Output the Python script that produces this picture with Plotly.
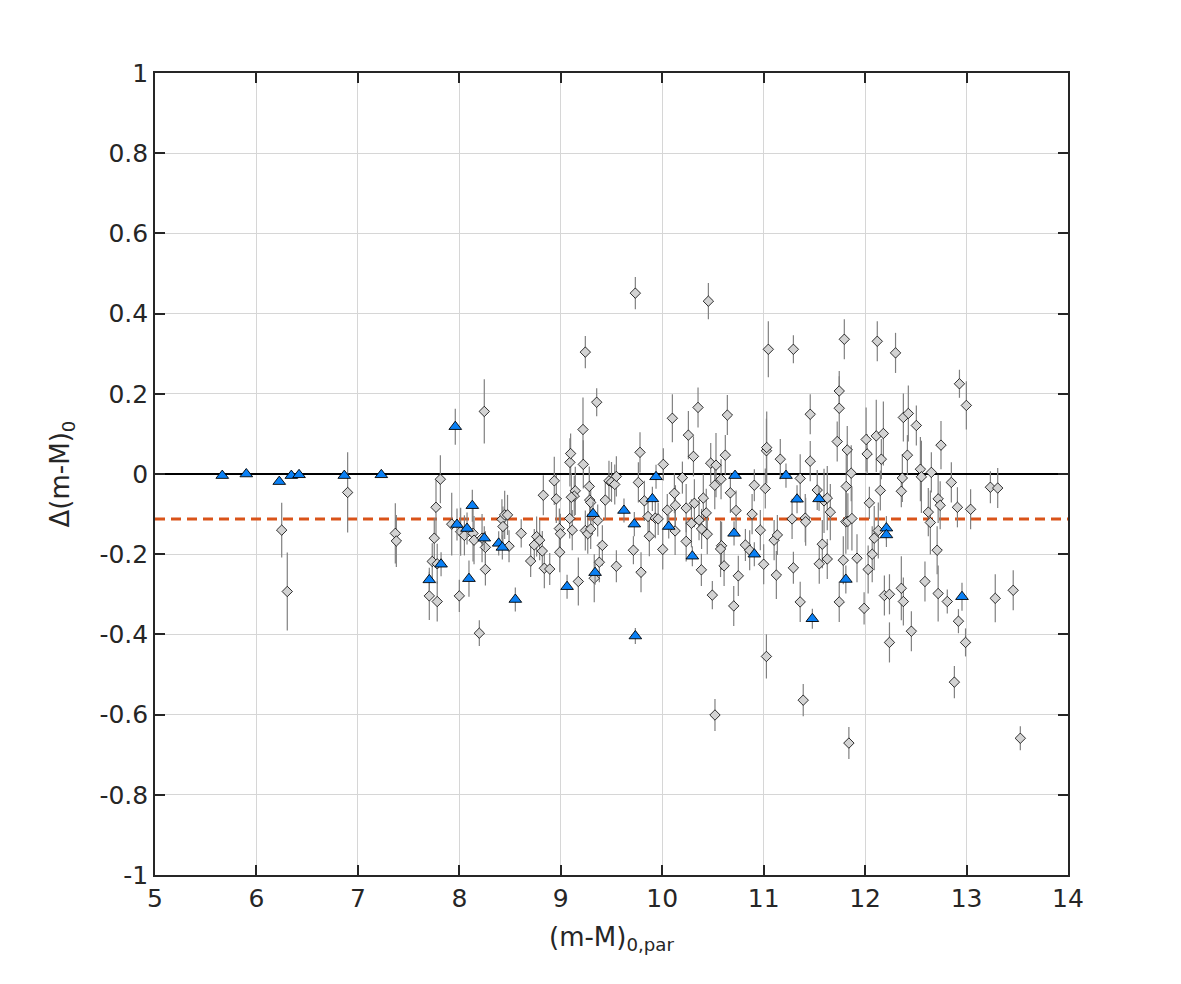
import plotly.graph_objects as go

# ---------------- data ----------------
# grey diamonds: x, delta, error
diam_x = [6.249, 6.304, 6.899, 7.369, 7.379,
          7.813, 7.770, 7.753, 7.733, 7.782, 7.704, 7.782, 7.925, 8.000, 8.013, 8.050,
          8.246, 8.135, 8.145, 8.224, 8.257, 8.257, 8.197, 8.420, 8.447, 8.430, 8.475, 8.490,
          8.610, 8.703, 8.739, 8.762, 8.792, 8.818, 8.828, 8.838, 8.891, 8.936, 8.956, 8.986, 8.996, 8.990,
          9.090, 9.097, 9.113, 9.088, 9.173, 9.143, 9.133, 9.104, 9.219, 9.222, 9.242, 9.354, 9.281, 9.285,
          9.295, 9.242, 9.266, 9.295, 9.364, 9.380, 9.410, 9.330, 9.439, 9.475, 9.500, 9.532, 9.548, 9.548,
          9.716, 9.735, 9.765, 9.781, 9.791, 9.824, 9.860, 9.873, 9.932, 9.960, 10.005, 10.011, 10.050,
          10.100, 10.120, 10.130, 10.127, 10.199, 10.236, 10.236, 10.258, 10.308, 10.317, 10.288, 10.353,
          10.363, 10.388, 10.386, 10.405, 10.434, 10.444, 10.455, 10.478, 10.494, 10.520, 10.530, 10.518,
          10.580, 10.585, 10.575, 10.610, 10.622, 10.642, 10.672, 10.705, 10.728, 10.750,
          10.820, 10.862, 10.886, 10.908, 10.967, 11.000, 11.016, 11.027, 11.030, 11.027, 11.046, 11.103,
          11.125, 11.135, 11.164, 11.280, 11.293, 11.293, 11.360, 11.360, 11.390, 11.410, 11.414, 11.459,
          11.459, 11.528, 11.548, 11.578, 11.595, 11.627, 11.627, 11.657, 11.725, 11.745, 11.745, 11.745,
          11.785, 11.795, 11.810, 11.814, 11.824, 11.830, 11.840, 11.863, 11.870, 11.920,
          11.990, 12.010, 12.020, 12.030, 12.042, 12.070, 12.090, 12.110, 12.120, 12.130, 12.150, 12.160,
          12.180, 12.190, 12.240, 12.240, 12.300, 12.357, 12.357, 12.367, 12.377, 12.377, 12.417, 12.426,
          12.456, 12.505, 12.545, 12.555, 12.590, 12.623, 12.643, 12.653, 12.710, 12.720, 12.740, 12.720,
          12.748, 12.810, 12.850, 12.880, 12.910, 12.920, 12.930, 12.990, 12.998, 13.040, 13.235, 13.283,
          13.307, 13.460, 13.530]
diam_y = [-0.140, -0.293, -0.046, -0.148, -0.167,
          -0.013, -0.083, -0.160, -0.218, -0.224, -0.304, -0.318, -0.125, -0.304, -0.144, -0.153,
          0.156, -0.148, -0.165, -0.160, -0.183, -0.238, -0.397, -0.113, -0.102, -0.131, -0.102, -0.180,
          -0.148, -0.217, -0.177, -0.156, -0.165, -0.192, -0.053, -0.235, -0.237, -0.017, -0.062, -0.136, -0.149, -0.195,
          0.029, 0.051, -0.140, -0.111, -0.268, -0.042, -0.055, -0.058, 0.111, 0.024, 0.304, 0.179, -0.031, -0.065,
          -0.071, -0.141, -0.149, -0.137, -0.116, -0.220, -0.178, -0.260, -0.065, -0.017, -0.020, -0.026, -0.006, -0.230,
          -0.190, 0.451, -0.021, 0.054, -0.245, -0.067, -0.106, -0.155, -0.110, -0.112, -0.188, 0.024, -0.090,
          0.139, -0.048, -0.078, -0.142, -0.009, -0.168, -0.085, 0.097, 0.044, -0.073, -0.123, 0.166,
          -0.115, -0.137, -0.239, -0.060, -0.097, -0.150, 0.431, 0.027, -0.302, -0.601, 0.022, -0.028,
          -0.013, -0.179, -0.187, -0.229, 0.047, 0.147, -0.047, -0.329, -0.091, -0.254,
          -0.177, -0.190, -0.100, -0.028, -0.140, -0.225, -0.036, 0.058, 0.066, -0.455, 0.311, -0.165,
          -0.252, -0.152, 0.037, -0.112, 0.311, -0.234, -0.011, -0.319, -0.564, -0.110, -0.119, 0.149,
          0.032, -0.040, -0.224, -0.175, -0.067, -0.060, -0.212, -0.095, 0.081, 0.207, 0.164, -0.319,
          -0.215, 0.336, -0.119, -0.031, 0.060, -0.118, -0.671, 0.002, -0.111, -0.210,
          -0.335, 0.086, 0.050, -0.238, -0.072, -0.200, -0.160, 0.095, 0.331, -0.141, -0.041, 0.037,
          0.101, -0.303, -0.300, -0.420, 0.302, -0.043, -0.285, -0.010, 0.141, -0.318, 0.047, 0.151,
          -0.392, 0.121, 0.012, -0.007, -0.268, -0.095, -0.121, 0.004, -0.190, -0.062, -0.078, -0.298,
          0.072, -0.318, -0.021, -0.519, -0.083, -0.367, 0.225, -0.420, 0.171, -0.088, -0.033, -0.310,
          -0.035, -0.290, -0.659]
diam_err = [0.068, 0.097, 0.100, 0.075, 0.065,
            0.060, 0.070, 0.050, 0.045, 0.050, 0.060, 0.050, 0.078, 0.040, 0.060, 0.050,
            0.080, 0.070, 0.060, 0.060, 0.040, 0.040, 0.032, 0.050, 0.060, 0.050, 0.050, 0.040,
            0.035, 0.040, 0.040, 0.050, 0.050, 0.050, 0.050, 0.050, 0.040, 0.060, 0.060, 0.050, 0.050, 0.050,
            0.060, 0.050, 0.050, 0.050, 0.060, 0.060, 0.050, 0.060, 0.080, 0.060, 0.040, 0.035, 0.050, 0.050,
            0.050, 0.050, 0.050, 0.050, 0.040, 0.050, 0.050, 0.060, 0.050, 0.050, 0.050, 0.050, 0.050, 0.040,
            0.035, 0.040, 0.050, 0.050, 0.050, 0.050, 0.040, 0.050, 0.050, 0.040, 0.050, 0.040, 0.040,
            0.060, 0.050, 0.050, 0.060, 0.040, 0.050, 0.060, 0.060, 0.050, 0.060, 0.060, 0.050,
            0.050, 0.050, 0.040, 0.060, 0.060, 0.050, 0.045, 0.050, 0.035, 0.040, 0.080, 0.060,
            0.050, 0.060, 0.070, 0.050, 0.050, 0.050, 0.050, 0.050, 0.050, 0.050,
            0.040, 0.050, 0.050, 0.040, 0.050, 0.050, 0.050, 0.080, 0.090, 0.055, 0.070, 0.050,
            0.060, 0.050, 0.050, 0.050, 0.035, 0.040, 0.060, 0.050, 0.040, 0.060, 0.060, 0.050,
            0.050, 0.050, 0.050, 0.060, 0.080, 0.080, 0.050, 0.070, 0.050, 0.050, 0.080, 0.050,
            0.060, 0.050, 0.080, 0.080, 0.060, 0.070, 0.040, 0.070, 0.080, 0.060,
            0.040, 0.080, 0.050, 0.060, 0.040, 0.070, 0.080, 0.090, 0.050, 0.070, 0.050, 0.050,
            0.080, 0.050, 0.050, 0.050, 0.050, 0.040, 0.080, 0.060, 0.060, 0.060, 0.050, 0.070,
            0.050, 0.050, 0.080, 0.090, 0.050, 0.060, 0.080, 0.050, 0.060, 0.060, 0.060, 0.070,
            0.060, 0.030, 0.050, 0.040, 0.050, 0.030, 0.035, 0.035, 0.060, 0.050, 0.040, 0.060,
            0.050, 0.050, 0.030]

# blue triangles: x, delta, error
tri_x = [5.663, 5.900, 6.225, 6.344, 6.420, 6.866, 7.231, 7.960, 7.704, 7.820, 7.977, 8.076, 8.095,
         8.128, 8.246, 8.388, 8.424, 8.552, 9.062, 9.318, 9.338, 9.623, 9.725, 9.735, 9.903, 9.939,
         10.064, 10.297, 10.708, 10.718, 10.908, 11.220, 11.329, 11.546, 11.480, 11.810, 12.210, 12.210,
         12.955]
tri_y = [-0.004, 0.000, -0.019, -0.004, -0.002, -0.004, -0.002, 0.118, -0.264, -0.225, -0.126, -0.136,
         -0.261, -0.079, -0.160, -0.173, -0.183, -0.313, -0.281, -0.099, -0.246, -0.091, -0.125, -0.404,
         -0.062, -0.007, -0.131, -0.205, -0.148, -0.004, -0.200, -0.004, -0.063, -0.062, -0.361, -0.263,
         -0.135, -0.152, -0.306]
tri_err = [0.0, 0.0, 0.0, 0.0, 0.0, 0.0, 0.0, 0.045, 0.030, 0.030, 0.040, 0.040, 0.045,
           0.040, 0.030, 0.030, 0.030, 0.030, 0.030, 0.030, 0.030, 0.030, 0.030, 0.020, 0.030, 0.030,
           0.030, 0.025, 0.030, 0.0, 0.030, 0.030, 0.035, 0.030, 0.025, 0.035, 0.030, 0.030,
           0.035]

MEAN_OFFSET = -0.112
X_RANGE = [5, 14]
Y_RANGE = [-1, 1]
x_ticks = [5, 6, 7, 8, 9, 10, 11, 12, 13, 14]
x_ticktext = ["5", "6", "7", "8", "9", "10", "11", "12", "13", "14"]
y_ticks = [-1, -0.8, -0.6, -0.4, -0.2, 0, 0.2, 0.4, 0.6, 0.8, 1]
y_ticktext = ["-1", "-0.8", "-0.6", "-0.4", "-0.2", "0", "0.2", "0.4", "0.6", "0.8", "1"]

# ---------------- figure ----------------
fig = go.Figure()

fig.add_trace(go.Scatter(x=X_RANGE, y=[0, 0], mode="lines",
                         line=dict(color="black", width=2), hoverinfo="skip"))
fig.add_trace(go.Scatter(x=X_RANGE, y=[MEAN_OFFSET, MEAN_OFFSET], mode="lines",
                         line=dict(color="#D95319", width=3, dash="10px,6px"), hoverinfo="skip"))

fig.add_trace(go.Scatter(
    x=diam_x, y=diam_y, mode="markers",
    error_y=dict(type="data", array=diam_err, visible=True, color="#808080", thickness=1.2, width=0),
    marker=dict(symbol="diamond", size=8, color="#d3d3d3", line=dict(color="black", width=0.8)),
))
fig.add_trace(go.Scatter(
    x=tri_x, y=tri_y, mode="markers",
    error_y=dict(type="data", array=tri_err, visible=True, color="#808080", thickness=1.2, width=0),
    marker=dict(symbol="triangle-up", size=11, color="#0a80f5", line=dict(color="black", width=0.9)),
))

axis_common = dict(
    showline=True, linecolor="#262626", linewidth=1.6, mirror="ticks",
    ticks="inside", ticklen=10, tickwidth=1.6, tickcolor="#262626",
    showgrid=True, gridcolor="#d6d6d6", gridwidth=1.4, zeroline=False,
    tickfont=dict(family="DejaVu Sans", size=25, color="#262626"),
)

fig.update_layout(
    width=1181, height=984,
    margin=dict(l=155, r=113, t=73, b=109),
    paper_bgcolor="white", plot_bgcolor="white",
    showlegend=False,
    font=dict(family="DejaVu Sans", color="#262626"),
    xaxis=dict(range=X_RANGE, tickvals=x_ticks, ticktext=x_ticktext,
               title=dict(text="(m-M)<sub>0,par</sub>", font=dict(size=26, family="DejaVu Sans", color="#262626"),
                          standoff=16),
               **axis_common),
    yaxis=dict(range=Y_RANGE, tickvals=y_ticks, ticktext=y_ticktext,
               title=dict(text="Δ(m-M)<sub>0</sub>", font=dict(size=26, family="DejaVu Sans", color="#262626"),
                          standoff=22),
               **axis_common),
)

fig.write_html("out.html")
